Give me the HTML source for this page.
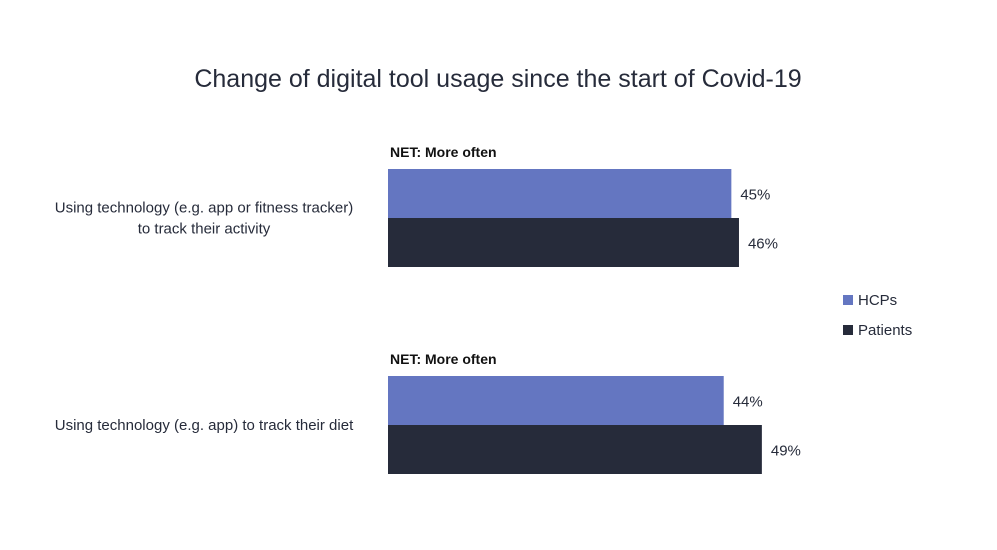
<!DOCTYPE html>
<html><head><meta charset="utf-8"><style>
html,body{margin:0;padding:0;background:#fff;}
svg{display:block;font-family:"Liberation Sans",sans-serif;}
</style></head><body>
<svg id="chart" width="997" height="550" viewBox="0 0 997 550">
<rect width="997" height="550" fill="#fff"/>
<text x="498" y="87" text-anchor="middle" font-size="25" fill="#262b3a">Change of digital tool usage since the start of Covid-19</text>
<g id="bars"></g>
<g>
<g><rect x="843" y="295" width="10" height="10" fill="#6476c1"/><text x="858" y="305" font-size="15" fill="#262b3a">HCPs</text></g>
<g><rect x="843" y="325" width="10" height="10" fill="#262b3a"/><text x="858" y="335" font-size="15" fill="#262b3a">Patients</text></g>
</g>
</svg>
<script>
const categories = [["Using technology (e.g. app or fitness tracker)","to track their activity"],["Using technology (e.g. app) to track their diet"]];
const hcpValues = [45, 44];
const patientValues = [46, 49];
const groupLabel = "NET: More often";
const NS="http://www.w3.org/2000/svg";
const g=document.getElementById('bars');
const x0=388, pxPer=7.63, groupTop=[169,376], barH=49;
function xs(v){return v*pxPer;}
function mk(tag,attrs){const e=document.createElementNS(NS,tag);for(const k in attrs)e.setAttribute(k,attrs[k]);g.appendChild(e);return e;}
categories.forEach((cat,i)=>{
  const top=groupTop[i];
  const h=mk('text',{x:x0+2,y:top-12,'font-size':14,'font-weight':'bold',fill:'#111'});
  h.textContent=groupLabel;
  
  
  const mid=top+barH;
  const lines=cat;
  lines.forEach((ln,j)=>{
    const t=mk('text',{x:204,y:mid+5+(j-(lines.length-1)/2)*21,'text-anchor':'middle','font-size':15,fill:'#262b3a'});
    t.textContent=ln;
    
    
  });
  [[hcpValues[i],'#6476c1','hcp'],[patientValues[i],'#262b3a','patient']].forEach((s,k)=>{
    const y=top+k*barH;
    const r=mk('rect',{x:x0,y:y,width:xs(s[0]),height:barH,fill:s[1]});
    
    
    const v=mk('text',{x:x0+xs(s[0])+9,y:y+barH/2+6,'font-size':15,fill:'#262b3a'});
    v.textContent=s[0]+'%';
    
    
  });
});
</script>
</body></html>
